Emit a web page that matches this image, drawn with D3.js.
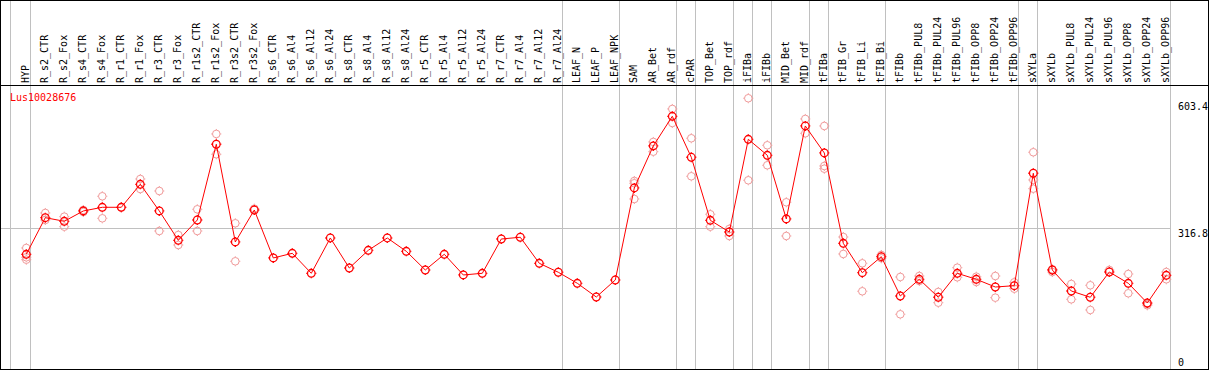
<!DOCTYPE html>
<html>
<head>
<meta charset="utf-8">
<script src="https://cdn.jsdelivr.net/npm/d3@7"></script>
<style>
    body { margin: 0; background: #fff; }
    svg text { font-family: "DejaVu Sans Mono", "Liberation Mono", monospace; font-size: 10px; }
</style>
</head>
<body>
<div id="chart"></div>
<script>
const geneName = 'Lus10028676';

const categories = [
    'HYP', 'R_s2_CTR', 'R_s2_Fox', 'R_s4_CTR', 'R_s4_Fox', 'R_r1_CTR', 'R_r1_Fox', 'R_r3_CTR',
    'R_r3_Fox', 'R_r1s2_CTR', 'R_r1s2_Fox', 'R_r3s2_CTR', 'R_r3s2_Fox', 'R_s6_CTR', 'R_s6_Al4',
    'R_s6_Al12', 'R_s6_Al24', 'R_s8_CTR', 'R_s8_Al4', 'R_s8_Al12', 'R_s8_Al24', 'R_r5_CTR',
    'R_r5_Al4', 'R_r5_Al12', 'R_r5_Al24', 'R_r7_CTR', 'R_r7_Al4', 'R_r7_Al12', 'R_r7_Al24',
    'LEAF_N', 'LEAF_P', 'LEAF_NPK', 'SAM', 'AR_Bet', 'AR_rdf', 'cPAR', 'TOP_Bet', 'TOP_rdf',
    'iFIBa', 'iFIBb', 'MID_Bet', 'MID_rdf', 'tFIBa', 'tFIB_Gr', 'tFIB_Li', 'tFIB_Bi', 'tFIBb',
    'tFIBb_PUL8', 'tFIBb_PUL24', 'tFIBb_PUL96', 'tFIBb_OPP8', 'tFIBb_OPP24', 'tFIBb_OPP96',
    'sXYLa', 'sXYLb', 'sXYLb_PUL8', 'sXYLb_PUL24', 'sXYLb_PUL96', 'sXYLb_OPP8', 'sXYLb_OPP24',
    'sXYLb_OPP96'
];

// mean expression per sample
const meanValues = [
    258.3, 340.7, 332.6, 355.8, 364.1, 364.1, 415.9, 355.8,
    289.8, 335.5, 506.0, 286.0, 358.0, 250.0, 260.5,
    215.5, 295.0, 227.4, 267.3, 295.0, 265.0, 222.9,
    258.3, 211.7, 215.5, 292.7, 296.6, 238.0, 217.8,
    193.0, 162.1, 200.4, 407.6, 502.2, 569.0, 476.7, 334.8, 308.5,
    517.2, 481.2, 337.8, 547.2, 486.4, 283.0, 216.8, 252.9, 164.4,
    202.0, 161.5, 215.5, 202.0, 184.6, 187.6,
    440.7, 222.9, 175.6, 161.5, 218.4, 193.0, 148.6,
    211.0
];

// individual replicates
const replicateValues = [
    [272.5, 251.5, 246.1], [351.3, 335.5], [343.0, 320.4], [358.0, 353.5], [388.9, 339.3],
    [364.1], [427.8, 405.3], [400.8, 310.7], [301.7, 279.2], [359.6, 310.7], [529.2, 483.5],
    [328.1, 242.5], [361.0],
    [], [], [], [], [], [], [], [], [], [], [], [], [], [], [], [], [], [], [],
    [423.3, 418.2, 382.8], [511.2, 489.3], [585.5, 553.9], [519.5, 433.9], [348.4, 320.4],
    [315.3, 299.5], [609.6, 424.9], [503.7, 458.7], [375.4, 299.5], [563.0, 530.7],
    [547.2, 457.1, 451.0], [297.2, 259.0], [238.0, 175.0], [256.7, 249.3], [207.2, 123.2],
    [209.4, 198.2], [173.4, 149.3], [228.1, 206.5], [207.8, 195.9], [209.4, 160.6],
    [195.2, 180.8], [488.0, 425.6, 406.0], [224.5, 218.4], [191.4, 156.9], [188.5, 132.9],
    [222.9], [213.9, 170.5], [146.4, 143.4], [218.4, 202.0]
];

// last sample of each group
const groupEnds = [
    'HYP', 'R_r7_Al24', 'LEAF_NPK', 'AR_rdf', 'cPAR', 'TOP_rdf', 'iFIBa', 'iFIBb',
    'MID_rdf', 'tFIBa', 'tFIB_Bi', 'tFIBb_OPP96', 'sXYLa', 'sXYLb_OPP96'
];

const yTicks = [0, 316.8, 603.4];

const width = 1209;
const height = 370;
const headerBottom = 85;
const plotBottom = 369;
const gridColor = '#c0c0c0';

const svg = d3.select('#chart').append('svg')
    .attr('width', width)
    .attr('height', height);

const x = d3.scalePoint()
    .domain(categories)
    .range([26.3, 1166.3]);

const y = d3.scaleLinear()
    .domain([0, 603.4])
    .range([plotBottom, 101]);

const snap = v => Math.round(v - 0.5) + 0.5;

// vertical group separators
const sepX = [x(categories[0]) - 15.5].concat(groupEnds.map(c => x(c) + 4.2));
svg.append('g')
    .selectAll('line')
    .data(sepX)
    .enter().append('line')
    .attr('x1', d => snap(d))
    .attr('x2', d => snap(d))
    .attr('y1', 0)
    .attr('y2', plotBottom)
    .attr('stroke', gridColor)
    .attr('shape-rendering', 'crispEdges');

// horizontal grid line
svg.append('line')
    .attr('x1', 1)
    .attr('x2', snap(x('sXYLb_OPP96') + 4.2))
    .attr('y1', snap(y(316.8)))
    .attr('y2', snap(y(316.8)))
    .attr('stroke', gridColor)
    .attr('shape-rendering', 'crispEdges');

// frame
svg.append('rect')
    .attr('x', 0.5)
    .attr('y', 0.5)
    .attr('width', 1208)
    .attr('height', plotBottom)
    .attr('fill', 'none')
    .attr('stroke', '#000')
    .attr('shape-rendering', 'crispEdges');

svg.append('line')
    .attr('x1', 0)
    .attr('x2', width)
    .attr('y1', headerBottom + 0.5)
    .attr('y2', headerBottom + 0.5)
    .attr('stroke', '#000')
    .attr('shape-rendering', 'crispEdges');

// sample names
svg.append('g')
    .selectAll('text')
    .data(categories)
    .enter().append('text')
    .attr('transform', d => `translate(${x(d) - 0.5},83) rotate(-90)`)
    .attr('dy', '0.35em')
    .attr('fill', '#000')
    .text(d => d);

// gene name
svg.append('text')
    .attr('x', 10)
    .attr('y', 101)
    .attr('fill', '#f00')
    .text(geneName);

// right axis labels
svg.append('g')
    .selectAll('text')
    .data(yTicks)
    .enter().append('text')
    .attr('x', 1178)
    .attr('y', d => Math.min(y(d) + 9, 366))
    .attr('fill', '#000')
    .text(d => d);

const marker = 'M0,-4V-5M0,4V5M-4,0H-5M4,0H5';

// replicates
const reps = [];
replicateValues.forEach((vals, i) => {
    vals.forEach(v => reps.push({ cat: categories[i], value: v }));
});

const repG = svg.append('g')
    .attr('stroke', '#f09a9a')
    .attr('fill', 'none');

repG.selectAll('circle')
    .data(reps)
    .enter().append('circle')
    .attr('cx', d => x(d.cat))
    .attr('cy', d => y(d.value))
    .attr('r', 3.8);

repG.selectAll('path')
    .data(reps)
    .enter().append('path')
    .attr('transform', d => `translate(${x(d.cat)},${y(d.value)})`)
    .attr('d', marker);

// mean line
const line = d3.line()
    .x((d, i) => x(categories[i]))
    .y(d => y(d));

svg.append('path')
    .datum(meanValues)
    .attr('d', line)
    .attr('fill', 'none')
    .attr('stroke', '#f00')
    .attr('stroke-width', 1);

const meanG = svg.append('g')
    .attr('stroke', '#f00')
    .attr('stroke-width', 1.3)
    .attr('fill', 'none');

meanG.selectAll('circle')
    .data(meanValues)
    .enter().append('circle')
    .attr('cx', (d, i) => x(categories[i]))
    .attr('cy', d => y(d))
    .attr('r', 3.8);

meanG.selectAll('path')
    .data(meanValues)
    .enter().append('path')
    .attr('transform', (d, i) => `translate(${x(categories[i])},${y(d)})`)
    .attr('d', marker);
</script>
</body>
</html>
